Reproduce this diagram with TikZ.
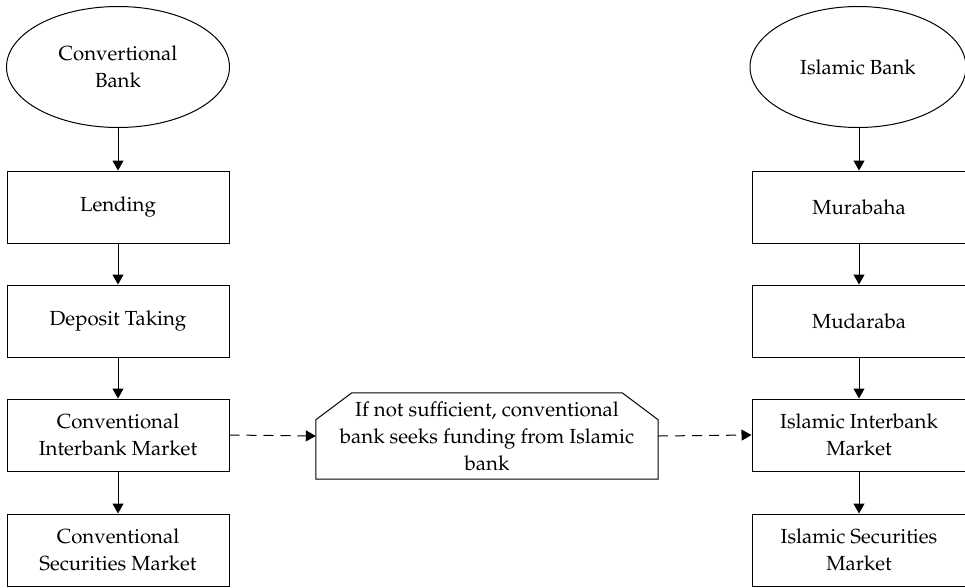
\documentclass[tikz,border=0pt]{standalone}
\usepackage[T1]{fontenc}
\usepackage{mathpazo}
\usetikzlibrary{shapes.geometric,arrows.meta,calc}
\begin{document}
\begin{tikzpicture}[x=1pt,y=-1pt,
  every node/.style={font=\fontsize{20.4}{27}\selectfont, align=center, inner sep=0pt},
  bankell/.style={draw, ellipse, minimum height=121pt, line width=1pt},
  stagebox/.style={draw, rectangle, minimum height=72pt, line width=1pt},
  flow/.style={-{Triangle[length=10pt,width=11pt]}, line width=1pt},
  dflow/.style={-{Triangle[length=10pt,width=11pt]}, line width=1pt, dash pattern=on 10pt off 7pt},
  outline/.style={draw, line width=1pt, line join=miter}]
\useasboundingbox (0,0) rectangle (965,587);

\node[bankell, minimum width=223pt] (cb) at (118,67) {Convertional\\Bank};
\node[stagebox, minimum width=222pt] (l1) at (118,207) {Lending};
\node[stagebox, minimum width=222pt] (l2) at (118,321) {Deposit Taking};
\node[stagebox, minimum width=222pt] (l3) at (118,435) {Conventional\\Interbank Market};
\node[stagebox, minimum width=222pt] (l4) at (118,550) {Conventional\\Securities Market};

\node[bankell, minimum width=216pt] (ib) at (858,67) {Islamic Bank};
\node[stagebox, minimum width=214pt] (r1) at (859,207) {Murabaha};
\node[stagebox, minimum width=214pt] (r2) at (859,321) {Mudaraba};
\node[stagebox, minimum width=214pt] (r3) at (859,435) {Islamic Interbank\\Market};
\node[stagebox, minimum width=214pt] (r4) at (859,550) {Islamic Securities\\Market};

\node[minimum width=342pt, minimum height=86pt] (mid) at (487,436) {If not sufficient, conventional\\bank seeks funding from Islamic\\bank};
\draw[outline] ($(mid.north west)+(0,27)$) -- ($(mid.north west)+(36,0)$)
  -- ($(mid.north east)+(-36,0)$) -- ($(mid.north east)+(0,27)$)
  -- (mid.south east) -- (mid.south west) -- cycle;

\draw[flow] (cb.south) -- (l1.north);
\draw[flow] (l1) -- (l2);
\draw[flow] (l2) -- (l3);
\draw[flow] (l3) -- (l4);
\draw[flow] (ib.south -| r1.north) -- (r1.north);
\draw[flow] (r1) -- (r2);
\draw[flow] (r2) -- (r3);
\draw[flow] (r3) -- (r4);
\draw[dflow] (l3.east) -- (mid.west);
\draw[dflow] (mid.east) -- (r3.west);
\end{tikzpicture}
\end{document}
